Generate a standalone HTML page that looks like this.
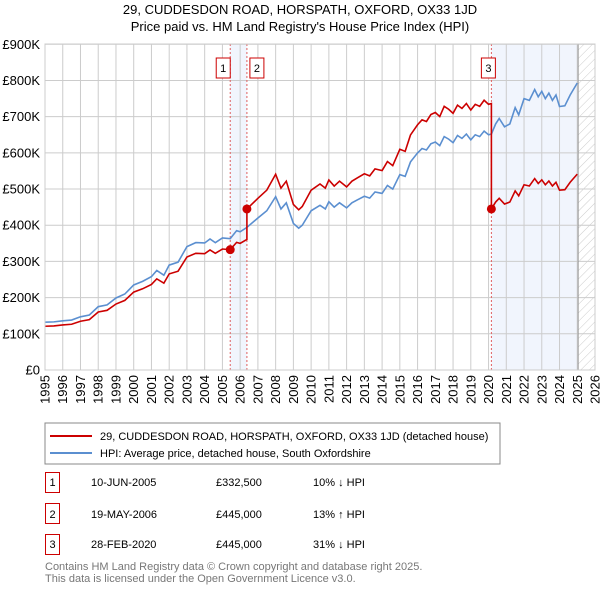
<!DOCTYPE html>
<html><head><meta charset="utf-8"><style>
body{margin:0;background:#fff;width:600px;height:590px;overflow:hidden;font-family:"Liberation Sans",sans-serif;}
svg text{font-family:"Liberation Sans",sans-serif;}
</style></head><body>
<svg id="c" width="600" height="590" xmlns="http://www.w3.org/2000/svg">
<defs><pattern id="hatch" width="6" height="6" patternUnits="userSpaceOnUse" patternTransform="rotate(45)"><line x1="0" y1="0" x2="0" y2="6" stroke="#ccc" stroke-width="1"/></pattern></defs>
<text x="300" y="14" text-anchor="middle" font-size="13">29, CUDDESDON ROAD, HORSPATH, OXFORD, OX33 1JD</text>
<text x="300" y="31" text-anchor="middle" font-size="13">Price paid vs. HM Land Registry's House Price Index (HPI)</text>
<g id="plot"></g>
<rect x="45" y="423" width="455" height="41" fill="#fff" stroke="#888"/>
<line x1="50" y1="436" x2="92" y2="436" stroke="#cc0000" stroke-width="2"/>
<text x="100" y="440" font-size="11">29, CUDDESDON ROAD, HORSPATH, OXFORD, OX33 1JD (detached house)</text>
<line x1="50" y1="453" x2="92" y2="453" stroke="#5b8fd0" stroke-width="2"/>
<text x="100" y="457" font-size="11">HPI: Average price, detached house, South Oxfordshire</text>
<g font-size="11">
<rect x="45.5" y="472.5" width="14" height="20" fill="none" stroke="#cc0000"/><text x="52.5" y="486" text-anchor="middle">1</text>
<text x="91" y="486">10-JUN-2005</text><text x="216" y="486">£332,500</text><text x="313" y="486">10% ↓ HPI</text>
<rect x="45.5" y="503.5" width="14" height="20" fill="none" stroke="#cc0000"/><text x="52.5" y="518" text-anchor="middle">2</text>
<text x="91" y="518">19-MAY-2006</text><text x="216" y="518">£445,000</text><text x="313" y="518">13% ↑ HPI</text>
<rect x="45.5" y="534.5" width="14" height="20" fill="none" stroke="#cc0000"/><text x="52.5" y="548" text-anchor="middle">3</text>
<text x="91" y="548">28-FEB-2020</text><text x="216" y="548">£445,000</text><text x="313" y="548">31% ↓ HPI</text>
</g>
<text x="45" y="570" font-size="11" fill="#777">Contains HM Land Registry data © Crown copyright and database right 2025.</text>
<text x="45" y="582" font-size="11" fill="#777">This data is licensed under the Open Government Licence v3.0.</text>
</svg>
<script>
const hpiYears=[1995,1995.5,1996,1996.5,1997,1997.5,1998,1998.5,1999,1999.5,2000,2000.5,2001,2001.3,2001.7,2002,2002.5,2003,2003.5,2004,2004.3,2004.6,2005,2005.44,2005.8,2006,2006.38,2007,2007.5,2008,2008.3,2008.6,2009,2009.3,2009.5,2010,2010.5,2010.8,2011,2011.3,2011.6,2012,2012.3,2012.6,2013,2013.3,2013.6,2014,2014.3,2014.6,2015,2015.3,2015.6,2016,2016.25,2016.5,2016.75,2017,2017.25,2017.5,2017.75,2018,2018.25,2018.5,2018.75,2019,2019.25,2019.5,2019.75,2020,2020.16,2020.4,2020.6,2020.9,2021.2,2021.5,2021.7,2022,2022.3,2022.6,2022.8,2023,2023.2,2023.4,2023.6,2023.8,2024,2024.3,2024.6,2025];
const hpiValues=[132,133,136,138,147,152,175,180,199,210,235,245,258,275,262,290,298,341,352,351,362,352,365,363,385,382,394,420,440,479,445,462,405,392,400,440,455,445,465,450,462,448,462,470,480,475,492,488,510,500,540,535,575,600,612,608,625,630,620,645,638,628,648,640,652,636,650,645,660,650,652,680,695,672,680,725,705,750,745,775,755,770,750,765,745,760,728,730,760,793];
const saleYears=[2005.44,2006.38,2020.16];
const salePrices=[332.5,445,445];
const saleLabels=["1","2","3"];
const yTicks=[0,100,200,300,400,500,600,700,800,900];
const yTickLabels=["£0","£100K","£200K","£300K","£400K","£500K","£600K","£700K","£800K","£900K"];
const xTicks=[1995,1996,1997,1998,1999,2000,2001,2002,2003,2004,2005,2006,2007,2008,2009,2010,2011,2012,2013,2014,2015,2016,2017,2018,2019,2020,2021,2022,2023,2024,2025,2026];
const dataEnd=2025.05;
const X=y=>45+(y-1995)*(550/31);
const Y=v=>370-v*(325.7/900);
const NS='http://www.w3.org/2000/svg';
const g=document.getElementById('plot');
function mk(t,a,p){const e=document.createElementNS(NS,t);for(const k in a)e.setAttribute(k,a[k]);(p||g).appendChild(e);return e;}
const bg=mk('rect',{x:45,y:44,width:550,height:326,fill:'#fff'});


const sh1=mk('rect',{x:X(saleYears[0]),y:44,width:X(saleYears[1])-X(saleYears[0]),height:326,fill:'#eef3fc',opacity:0.8});


const sh2=mk('rect',{x:X(saleYears[2]),y:44,width:X(dataEnd)-X(saleYears[2]),height:326,fill:'#eef3fc',opacity:0.8});


const ht=mk('rect',{x:X(dataEnd),y:44,width:595-X(dataEnd),height:326,fill:'url(#hatch)'});


yTicks.forEach((v,i)=>{
 const l=mk('line',{x1:45,x2:595,y1:Y(v),y2:Y(v),stroke:'#ccc'});
 
 
 const t=mk('text',{x:40,y:Y(v)+4.5,'text-anchor':'end','font-size':13});
 t.textContent=yTickLabels[i];
 
 
});
xTicks.forEach(y=>{
 const l=mk('line',{x1:X(y),x2:X(y),y1:44,y2:370,stroke:'#ccc'});
 
 
 const t=mk('text',{x:0,y:0,'text-anchor':'end','font-size':13,transform:`translate(${X(y)+4.5},375) rotate(-90)`});
 t.textContent=y;
 
 
});
const endl=mk('line',{x1:X(dataEnd),x2:X(dataEnd),y1:44,y2:370,stroke:'#999'});


saleYears.forEach((s,i)=>{
 const l=mk('line',{x1:X(s),x2:X(s),y1:44,y2:370,stroke:'#e06060','stroke-dasharray':'2,2'});
 
 
});
function hpiAt(t){for(let i=0;i<hpiYears.length-1;i++){if(t>=hpiYears[i]&&t<=hpiYears[i+1]){const f=(t-hpiYears[i])/(hpiYears[i+1]-hpiYears[i]);return hpiValues[i]+f*(hpiValues[i+1]-hpiValues[i]);}}return hpiValues[hpiValues.length-1];}
const redPts=[];
hpiYears.forEach((t,i)=>{
 let k=0;for(let j=0;j<saleYears.length;j++)if(t>=saleYears[j])k=j;
 const base=t<saleYears[0]?0:k;
 const r=salePrices[base]/hpiAt(saleYears[base]);
 if(saleYears.includes(t)&&t!==saleYears[0]){const pj=saleYears.indexOf(t);const rp=salePrices[pj-1]/hpiAt(saleYears[pj-1]);redPts.push([t,hpiValues[i]*rp]);}
 redPts.push([t,hpiValues[i]*r]);
});
const hp=mk('polyline',{points:hpiYears.map((t,i)=>X(t)+','+Y(hpiValues[i])).join(' '),fill:'none',stroke:'#5b8fd0','stroke-width':1.6});


const rp=mk('polyline',{points:redPts.map(p=>X(p[0])+','+Y(p[1])).join(' '),fill:'none',stroke:'#cc0000','stroke-width':1.6});


saleYears.forEach((s,i)=>{
 const c=mk('circle',{cx:X(s),cy:Y(salePrices[i]),r:4.5,fill:'#cc0000'});
 
 
 const b=mk('rect',{x:X(s)+(i===0?-14:i===1?3:-10),y:58,width:14,height:20,fill:'#fff',stroke:'#cc0000'});
 
 
 const t=mk('text',{x:X(s)+(i===0?-7:i===1?10:-3),y:72,'text-anchor':'middle','font-size':11});
 t.textContent=saleLabels[i];
 
 
});
const fr=mk('rect',{x:45,y:44,width:550,height:326,fill:'none',stroke:'#ccc'});


</script>
</body></html>
